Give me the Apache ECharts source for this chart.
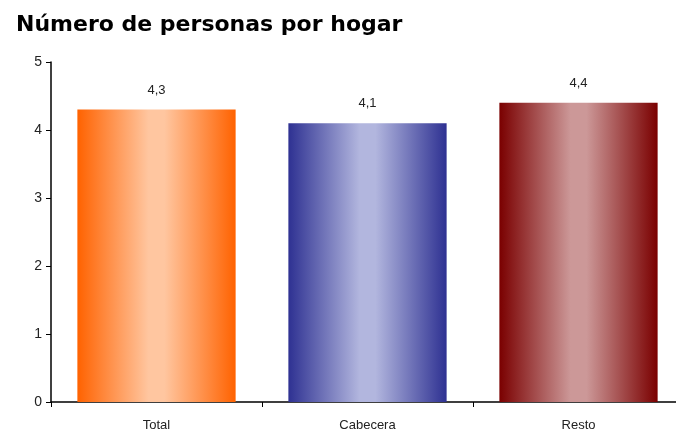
<!DOCTYPE html>
<html><head><meta charset="utf-8">
<script src="https://cdn.jsdelivr.net/npm/echarts@6/dist/echarts.min.js"></script>
<style>html,body{margin:0;padding:0;background:#fff}#c{width:676px;height:436px}</style>
</head><body><div id="c"></div>
<script>
const categories = ["Total", "Cabecera", "Resto"];
const values = [4.3, 4.1, 4.4];
const edgeColors = ["#FF6200", "#2E3192", "#7A0000"];
const midColors = ["#FFC6A0", "#B2B6DE", "#CC9898"];

function grad(i){
  return new echarts.graphic.LinearGradient(0,0,1,0,[
    {offset:0,color:edgeColors[i]},
    {offset:0.45,color:midColors[i]},
    {offset:0.55,color:midColors[i]},
    {offset:1,color:edgeColors[i]}
  ]);
}
const chart = echarts.init(document.getElementById('c'), null, {renderer:'canvas'});
chart.setOption({
  animation:false,
  title:{text:"Número de personas por hogar",left:11,top:9,
    textStyle:{fontFamily:"DejaVu Sans",fontWeight:"bold",fontSize:22,color:"#000"}},
  grid:{left:51,width:633,top:62,height:340,containLabel:false,outerBoundsMode:'none'},
  xAxis:{type:'category',data:categories,
    axisLine:{lineStyle:{color:'#000',width:1.5}},
    axisTick:{show:true,length:5,interval:0,lineStyle:{color:'#000'}},
    axisLabel:{fontFamily:"Liberation Sans",fontSize:13,color:'#222',margin:17}},
  yAxis:{type:'value',min:0,max:5,interval:1,
    axisLine:{show:true,lineStyle:{color:'#000',width:1.5}},
    axisTick:{show:true,length:5,lineStyle:{color:'#000'}},
    splitLine:{show:false},
    axisLabel:{fontFamily:"Liberation Sans",fontSize:14,color:'#222',margin:9}},
  series:[{type:'bar',barWidth:'75%',
    data:values.map((v,i)=>({value:v,itemStyle:{color:grad(i)}})),
    label:{show:true,position:'top',distance:13,fontFamily:"Liberation Sans",fontSize:13,color:'#222',
      formatter:p=>String(p.value).replace('.',',')}
  }]
});
</script></body></html>
